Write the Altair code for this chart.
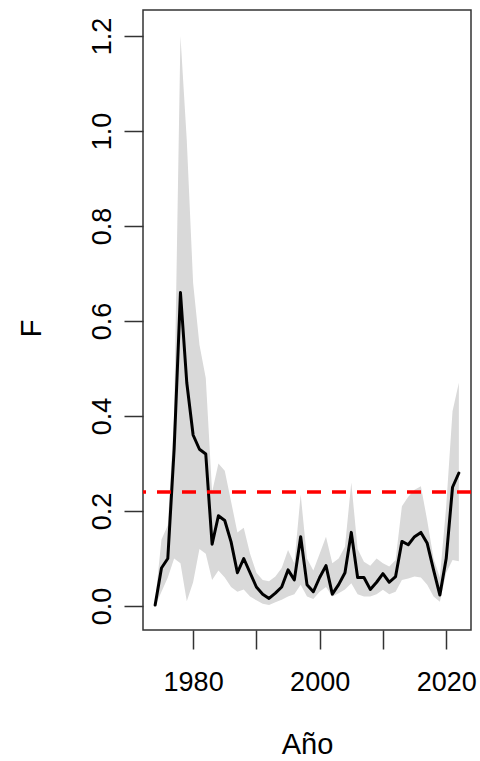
import altair as alt
import pandas as pd

years = list(range(1974, 2023))
F = [0.002, 0.08, 0.10, 0.33, 0.66, 0.47, 0.36, 0.33, 0.32, 0.13,
     0.19, 0.18, 0.135, 0.07, 0.10, 0.07, 0.04, 0.025, 0.016, 0.027,
     0.04, 0.076, 0.055, 0.146, 0.045, 0.03, 0.06, 0.085, 0.025, 0.045,
     0.07, 0.155, 0.06, 0.06, 0.035, 0.05, 0.068, 0.05, 0.062, 0.136,
     0.129, 0.146, 0.155, 0.132, 0.076, 0.023, 0.10, 0.25, 0.28]
upper = [0.01, 0.14, 0.17, 0.40, 1.20, 0.98, 0.68, 0.55, 0.48, 0.24,
         0.30, 0.285, 0.22, 0.155, 0.165, 0.11, 0.07, 0.055, 0.052, 0.062,
         0.08, 0.118, 0.09, 0.235, 0.10, 0.075, 0.11, 0.146, 0.09, 0.10,
         0.125, 0.26, 0.12, 0.093, 0.085, 0.10, 0.09, 0.083, 0.097, 0.21,
         0.23, 0.245, 0.252, 0.18, 0.10, 0.06, 0.21, 0.41, 0.47]
lower = [0.0, 0.03, 0.06, 0.10, 0.09, 0.01, 0.05, 0.12, 0.11, 0.055,
         0.075, 0.06, 0.04, 0.03, 0.035, 0.02, 0.012, 0.005, 0.002, 0.008,
         0.013, 0.02, 0.025, 0.045, 0.02, 0.015, 0.03, 0.04, 0.02, 0.027,
         0.035, 0.048, 0.025, 0.02, 0.02, 0.025, 0.034, 0.025, 0.03, 0.055,
         0.058, 0.062, 0.06, 0.045, 0.02, 0.009, 0.07, 0.097, 0.094]
ref_value = [0.24]
x_ticks = [1980, 1990, 2000, 2010, 2020]
y_ticks = [0.0, 0.2, 0.4, 0.6, 0.8, 1.0, 1.2]

df = pd.DataFrame({"year": years, "F": F, "lo": lower, "hi": upper})
ref = pd.DataFrame({"y": ref_value})

FONT = "Liberation Sans"
xscale = alt.Scale(domain=[1972.08, 2023.92], nice=False, zero=False)
yscale = alt.Scale(domain=[-0.0505, 1.2547], nice=False, zero=False)

x_axis = alt.Axis(
    values=x_ticks, format="d",
    labelExpr="datum.value % 20 == 0 ? datum.label : ''",
    domain=False, grid=False, tickSize=19, tickWidth=1.5, tickColor="#333333",
    labelFont=FONT, labelFontSize=27, labelColor="black", labelPadding=20,
    labelOverlap=False, labelFlush=False,
    titleFont=FONT, titleFontSize=29, titleFontWeight="normal", titleColor="black",
    titleX=164, titleY=114, titleBaseline="middle", titleAlign="center",
)
y_axis = alt.Axis(
    values=y_ticks, format=".1f",
    domain=False, grid=False, tickSize=19, tickWidth=1.5, tickColor="#333333",
    labelFont=FONT, labelFontSize=27, labelColor="black", labelPadding=14,
    labelAngle=270, labelAlign="center", labelBaseline="alphabetic",
    labelOverlap=False, labelFlush=False,
    titleFont=FONT, titleFontSize=29, titleFontWeight="normal", titleColor="black",
    titleX=-112, titleY=318, titleAngle=270, titleBaseline="middle", titleAlign="center",
)

band = alt.Chart(df).mark_area(color="#D9D9D9", opacity=1).encode(
    x=alt.X("year:Q", scale=xscale, axis=x_axis, title="Año"),
    y=alt.Y("lo:Q", scale=yscale, axis=y_axis, title="F"),
    y2="hi:Q",
)
line = alt.Chart(df).mark_line(color="black", strokeWidth=3, strokeJoin="round", strokeCap="round").encode(
    x=alt.X("year:Q", scale=xscale),
    y=alt.Y("F:Q", scale=yscale),
)
rule = alt.Chart(ref).mark_rule(color="#FF0000", strokeWidth=3.5, strokeDash=[14, 11]).encode(
    y=alt.Y("y:Q", scale=yscale),
)

chart = alt.layer(band, line, rule).properties(
    width=328, height=620,
    autosize=alt.AutoSizeParams(type="none"),
    padding={"left": 143, "top": 10, "right": 9, "bottom": 131},
    background="white",
).configure_view(stroke="#333333", strokeWidth=1.5)

chart.save("out.html", embed_options={"renderer": "svg", "actions": False})
